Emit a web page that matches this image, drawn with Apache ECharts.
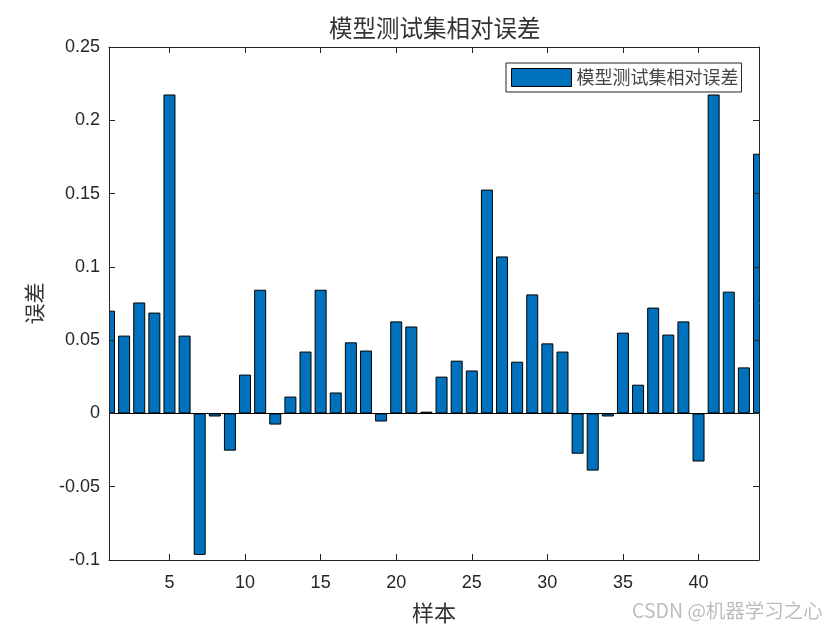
<!DOCTYPE html>
<html>
<head>
<meta charset="utf-8">
<script src="https://cdn.jsdelivr.net/npm/echarts@6/dist/echarts.min.js"></script>
<style>html,body{margin:0;padding:0;background:#fff;}#c{width:840px;height:630px;}</style>
</head>
<body>
<div id="c"></div>
<script>
const samples = [1,2,3,4,5,6,7,8,9,10,11,12,13,14,15,16,17,18,19,20,21,22,23,24,25,26,27,28,29,30,31,32,33,34,35,36,37,38,39,40,41,42,43,44];
const errors = [0.0701,0.0531,0.0757,0.0688,0.2176,0.0531,-0.0965,-0.0021,-0.0254,0.0265,0.0844,-0.0076,0.0115,0.0422,0.0844,0.0143,0.0485,0.0429,-0.0055,0.0628,0.0593,0.0012,0.0251,0.0360,0.0293,0.1527,0.1071,0.0353,0.0812,0.0478,0.0422,-0.0275,-0.0390,-0.0021,0.0551,0.0196,0.0722,0.0538,0.0628,-0.0328,0.2176,0.0831,0.0314,0.1772];
const xTicks = [5,10,15,20,25,30,35,40];
const seriesName = '模型测试集相对误差';

const chart = echarts.init(document.getElementById('c'));
const axisColor = '#262626';
const tickFont = {fontFamily:'Liberation Sans, Arial, sans-serif', fontSize:18, color:axisColor};
const cjk = '"Noto Sans CJK SC", sans-serif';
const G = {left:109, right:81, top:47, bottom:70};
chart.setOption({
  animation:false,
  backgroundColor:'#fff',
  title:{text:'模型测试集相对误差', left:324, top:11,
    textStyle:{fontFamily:cjk, fontSize:23.5, fontWeight:'normal', color:'#333'}},
  legend:{data:[seriesName], left:506, top:63, icon:'rect', itemWidth:60, itemHeight:18,
    borderColor:axisColor, borderWidth:1, padding:[5,3,5,5], backgroundColor:'#fff', z:20,
    itemStyle:{borderWidth:1, borderColor:'#000'},
    textStyle:{fontFamily:cjk, fontSize:18, color:'#444'}},
  grid:G,
  xAxis:[
    {type:'value', min:1, max:44, name:'样本', nameLocation:'middle', nameGap:42, z:10,
     nameTextStyle:{fontFamily:cjk, fontSize:22, color:'#333'},
     axisLine:{show:true, onZero:false, lineStyle:{color:axisColor, width:1}},
     axisTick:{show:true, inside:true, length:6, customValues:xTicks, lineStyle:{color:axisColor}},
     axisLabel:Object.assign({show:true, margin:14, customValues:xTicks}, tickFont),
     splitLine:{show:false}},
    {type:'value', min:1, max:44, position:'top', z:10,
     axisLine:{show:true, onZero:false, lineStyle:{color:axisColor, width:1}},
     axisTick:{show:true, inside:true, length:6, customValues:xTicks, lineStyle:{color:axisColor}},
     axisLabel:{show:false}, splitLine:{show:false}}
  ],
  yAxis:[
    {type:'value', min:-0.1, max:0.25, interval:0.05, name:'误差', nameLocation:'middle', nameGap:64, z:10,
     nameRotate:90, nameTextStyle:{fontFamily:cjk, fontSize:21, color:'#333'},
     axisLine:{show:true, onZero:false, lineStyle:{color:axisColor, width:1}},
     axisTick:{show:true, inside:true, length:6, lineStyle:{color:axisColor}},
     axisLabel:Object.assign({margin:9, formatter:v=>String(+v.toFixed(2))}, tickFont),
     splitLine:{show:false}},
    {type:'value', min:-0.1, max:0.25, interval:0.05, position:'right', z:10,
     axisLine:{show:true, onZero:false, lineStyle:{color:axisColor, width:1}},
     axisTick:{show:true, inside:true, length:6, lineStyle:{color:axisColor}},
     axisLabel:{show:false}, splitLine:{show:false}}
  ],
  graphic:[
    {type:'rect', z:5, silent:true, shape:{x:G.left-15, y:G.top-2, width:15, height:630-G.top-G.bottom+4}, style:{fill:'#fff'}},
    {type:'rect', z:5, silent:true, shape:{x:840-G.right, y:G.top-2, width:15, height:630-G.top-G.bottom+4}, style:{fill:'#fff'}},
    {type:'text', z:5, left:632, top:601, style:{text:'CSDN @机器学习之心', fontFamily:cjk, fontSize:19.5, fill:'#bdbdbd'}}
  ],
  series:[{
    name:seriesName, type:'bar', xAxisIndex:0, yAxisIndex:0, clip:true,
    barWidth:12,
    itemStyle:{color:'#0072BD', borderColor:'#000', borderWidth:1},
    markLine:{silent:true, symbol:['none','none'], label:{show:false},
      lineStyle:{color:'#000', width:1, type:'solid'}, data:[{yAxis:0}]},
    data:samples.map((s,i)=>[s, errors[i]])
  }]
});
</script>
</body>
</html>
